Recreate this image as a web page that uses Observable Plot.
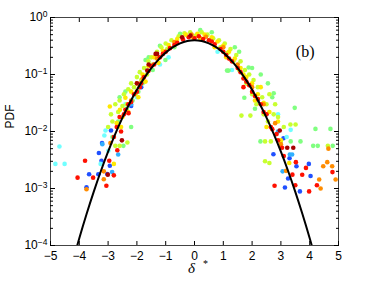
<!DOCTYPE html>
<html><head><meta charset="utf-8">
<script src="https://cdn.jsdelivr.net/npm/d3@7"></script>
<script src="https://cdn.jsdelivr.net/npm/@observablehq/plot@0.6"></script>
<style>body{margin:0;background:#fff}</style>
</head><body><div id="chart"></div>
<script>
// ---- data ----
const xTicks = [-5,-4,-3,-2,-1,0,1,2,3,4,5];
const xTickLabels = ["−5","−4","−3","−2","−1","0","1","2","3","4","5"];
const yTicks = [1e-4,1e-3,1e-2,1e-1,1];
const yTickExponents = ["−4","−3","−2","−1","0"];

// Gaussian reference curve
const curveX = [-4.25,-4,-3.75,-3.5,-3.25,-3,-2.75,-2.5,-2.25,-2,-1.75,-1.5,-1.25,-1,-0.75,-0.5,-0.25,0,0.25,0.5,0.75,1,1.25,1.5,1.75,2,2.25,2.5,2.75,3,3.25,3.5,3.75,4,4.25];
const curveY = [4.76e-5,1.34e-4,3.53e-4,8.73e-4,2.03e-3,4.43e-3,9.09e-3,0.0175,0.0317,0.0540,0.0863,0.1295,0.1826,0.2420,0.3011,0.3521,0.3867,0.3989,0.3867,0.3521,0.3011,0.2420,0.1826,0.1295,0.0863,0.0540,0.0317,0.0175,9.09e-3,4.43e-3,2.03e-3,8.73e-4,3.53e-4,1.34e-4,4.76e-5];

const blue = [[-3.66,1.78e-3],[-3.75,1.05e-3],[-3.34,1.78e-3],[-3.23,3.06e-3],[-3.32,4.2e-3],[-2.94,2.5e-3],[-2.9,1.04e-2],[-3.21,6.3e-3],[-3.03,1.8e-3],[-2.2,0.028],[-1.85,0.06],[2.2,0.035],[3.97,2.7e-3],[4.03,1.66e-3],[3.66,8.9e-4],[3.14,1.04e-3],[3.25,1.5e-3],[3.54,2.45e-3],[2.74,4.0e-3],[3.09,7.6e-3],[3.3,3.4e-3]];
const lightblue = [[-2.65,3.96e-3],[-2.86,1.94e-3],[-3.2,6e-3],[-2.2,0.03],[-1.8,0.08],[3.06,2.0e-3],[3.31,3.96e-3],[3.39,3.96e-3],[2.9,0.01],[2.5,0.02]];
const cyan = [[-4.69,5.46e-3],[-4.83,2.7e-3],[-4.51,2.7e-3],[-3.09,1.04e-2],[-3.13,8.5e-3],[-3.26,2.7e-3],[-2.99,4.6e-3],[-2.4,0.03],[-2.0,0.04],[-1.2,0.15],[0.8,0.25],[1.3,0.12],[2.9,0.02],[3.2,8e-3],[3.34,1.07e-2],[-0.9,0.2]];
const green = [[-2.85,0.008],[-2.65,0.015],[-2.47,5.6e-3],[-2.35,0.025],[-2.15,0.035],[-2.2,0.012],[-1.95,0.05],[-1.8,0.07],[-1.59,0.2],[-1.45,0.12],[-1.01,0.18],[-0.7,0.3],[-0.5,0.52],[0.2,0.6],[0.6,0.55],[1.13,0.117],[1.18,0.117],[1.4,0.3],[1.88,0.133],[1.73,3.9e-2],[2.75,4.7e-2],[2.70,4.0e-2],[3.48,2.6e-2],[2.3,0.1],[2.1,0.025],[2.29,6.7e-3],[2.99,6.7e-3],[3.34,6.7e-3],[3.68,6.7e-3],[4.20,1.11e-2],[4.72,1.11e-2],[4.12,5.6e-3],[4.28,5.6e-3],[4.80,5.6e-3],[-2.6,0.04],[-2.4,0.05],[-1.7,0.18],[-1.2,0.32],[1.55,0.25],[2.0,0.13],[2.55,0.07]];
const yellowgreen = [[-3.0,0.012],[-2.9,0.02],[-2.75,0.03],[-2.6,0.035],[-2.5,0.028],[-2.45,0.045],[-2.3,0.055],[-2.2,0.07],[-2.1,0.06],[-2.0,0.09],[-1.9,0.11],[-1.75,0.13],[-1.6,0.17],[-1.5,0.2],[-1.3,0.25],[-1.15,0.3],[-1.0,0.35],[-0.8,0.4],[-0.55,0.47],[-0.35,0.53],[-0.15,0.55],[0.05,0.48],[0.25,0.55],[0.45,0.5],[0.65,0.43],[0.85,0.4],[1.05,0.35],[1.25,0.28],[1.45,0.22],[1.6,0.17],[1.75,0.12],[1.9,0.1],[2.05,0.08],[2.2,0.06],[2.35,0.04],[2.5,0.03],[2.6,0.045],[2.75,0.02],[2.9,0.018],[3.1,0.012],[3.33,1.33e-2],[3.51,1.33e-2],[1.63,1.9e-2],[1.94,1.9e-2],[2.45,6.7e-3],[2.65,6.7e-3],[4.63,5.6e-3],[2.6,2.8e-3],[2.45,3.0e-3],[-2.33,6.4e-3],[-2.6,5.6e-3],[-2.75,5.6e-3],[-2.85,0.015],[-2.65,0.022],[-2.35,0.03],[-2.05,0.045],[-1.85,0.08],[-1.65,0.1],[-1.45,0.15],[-1.25,0.2],[-0.95,0.28],[-0.65,0.36],[0.9,0.3],[1.15,0.24],[1.35,0.17],[1.55,0.12],[1.8,0.07],[2.0,0.045],[2.15,0.03],[2.4,0.02],[2.55,0.015],[2.8,0.03]];
const yellow = [[-2.94,2.75e-2],[-2.59,2.4e-2],[-2.40,3.9e-2],[-2.80,2.7e-3],[-2.7,1.4e-2],[-2.5,1.8e-2],[-2.2,0.05],[-2.0,0.07],[-1.8,0.1],[-1.6,0.14],[-1.4,0.2],[-1.1,0.26],[-0.9,0.33],[-0.6,0.42],[-0.3,0.5],[0.1,0.52],[0.35,0.5],[0.6,0.45],[0.8,0.38],[1.0,0.32],[1.2,0.25],[1.4,0.19],[1.6,0.13],[1.8,0.09],[2.0,0.07],[2.2,0.045],[2.4,0.032],[2.6,0.022],[2.9,0.015],[3.29,2.8e-3],[3.0,0.007],[2.3,0.06],[-2.55,0.012],[-2.3,0.022],[-1.95,0.04],[-1.7,0.075],[-1.25,0.16],[-0.05,0.44],[0.2,0.43],[0.7,0.3],[1.1,0.2],[1.7,0.1],[2.1,0.035],[2.5,0.012]];
const orange = [[-3.15,1.45e-3],[-3.15,2.0e-3],[-2.92,6.3e-3],[-2.2,0.035],[-1.8,0.085],[-1.3,0.19],[-0.7,0.37],[-0.1,0.5],[0.4,0.46],[1.0,0.3],[1.5,0.15],[2.0,0.06],[2.4,0.03],[2.8,0.014],[4.65,5.0e-3],[4.61,2.9e-3],[4.47,2.45e-3],[4.78,2.45e-3],[4.90,1.44e-3],[4.33,1.44e-3],[4.38,1.0e-3],[3.18,2.04e-3],[3.0,6e-3],[-3.75,9.7e-4]];
const red = [[-2.6,0.018],[-2.4,0.024],[-2.3,0.03],[-2.29,0.021],[-2.1,0.045],[-1.9,0.06],[-1.75,0.09],[-1.6,0.115],[-1.4,0.15],[-1.2,0.2],[-1.0,0.25],[-0.85,0.29],[-0.6,0.36],[-0.4,0.41],[-0.2,0.45],[0,0.43],[0.15,0.47],[0.3,0.42],[0.5,0.4],[0.7,0.34],[0.9,0.28],[1.1,0.22],[1.3,0.17],[1.5,0.13],[1.7,0.085],[1.9,0.065],[2.1,0.042],[2.3,0.03],[2.5,0.02],[2.65,0.012],[2.85,0.009],[-3.80,3.06e-3],[-4.06,1.55e-3],[-3.52,1.55e-3],[-3.06,1.12e-3],[-2.80,1.7e-3],[-2.96,3.06e-3],[-2.68,4.7e-3],[-2.8,8e-3],[-2.55,1.0e-2],[4.79,1.94e-3],[3.87,2.3e-3],[3.74,1.74e-3],[4.25,1.14e-3],[3.98,8.9e-4],[2.78,1.12e-3],[3.50,1.14e-3],[3.40,1.75e-3],[3.52,2.9e-3],[3.10,3.7e-3],[3.04,5.2e-3],[1.70,0.06],[2.9,7e-3],[2.7,1.1e-2],[-2.7,0.012],[-2.45,0.02],[-2.2,0.033],[-2.0,0.05],[-1.85,0.07],[-1.5,0.14],[-1.1,0.23],[-0.7,0.33],[0.6,0.38],[1.0,0.25],[1.2,0.19],[1.6,0.11],[1.8,0.075],[2.0,0.05],[2.2,0.037],[2.4,0.022]];
const darkred = [[-3.01,1.75e-3],[-2.52,7.0e-3],[-1.59,0.15],[-1.64,0.117],[-1.35,0.23],[-1.30,0.23],[-2.0,0.07],[-0.43,0.45],[-0.14,0.48],[2.96,1.04e-2],[3.22,5.2e-3],[3.43,5.2e-3]];

const seriesList = [
  [blue, "#2050ff"], [lightblue, "#30b0ff"], [cyan, "#70ffff"], [green, "#80ff80"],
  [yellowgreen, "#c8ff30"], [yellow, "#ffe800"], [orange, "#ff8c00"], [red, "#ff1000"], [darkred, "#a80000"]
];

const curve = curveX.map((x, i) => ({x, y: curveY[i]}));
const minorY = [];
for (let e = -4; e < 0; e++) for (let m = 2; m <= 9; m++) minorY.push(m * Math.pow(10, e));

const xLabelOf = d => xTickLabels[xTicks.indexOf(d)];
const yLabelOf = d => "10^" + yTickExponents[yTicks.findIndex(v => Math.abs(Math.log10(v) - Math.log10(d)) < 1e-6)];

const chart = Plot.plot({
  width: 374, height: 281,
  marginLeft: 50, marginRight: 36, marginTop: 17, marginBottom: 36,
  style: {fontFamily: "'Liberation Sans', Arial, sans-serif", fontSize: "12px", background: "#fff", color: "#000"},
  x: {domain: [-5, 5]},
  y: {type: "log", domain: [1e-4, 1]},
  marks: [
    ...seriesList.map(([s, c]) => Plot.dot(s, {x: d => d[0], y: d => d[1], r: 2.3, fill: c, clip: true})),
    Plot.line(curve, {x: "x", y: "y", stroke: "black", strokeWidth: 2, curve: "catmull-rom", clip: true}),
    Plot.frame({stroke: "#444"}),
    // inward ticks
    Plot.axisX({anchor: "bottom", ticks: xTicks, tickSize: 4, dy: -4, tickFormat: () => "", label: null}),
    Plot.axisX({anchor: "top", ticks: xTicks, tickSize: 4, dy: 4, tickFormat: () => "", label: null}),
    Plot.axisY({anchor: "left", ticks: yTicks, tickSize: 5, dx: 5, tickFormat: () => "", label: null}),
    Plot.axisY({anchor: "right", ticks: yTicks, tickSize: 5, dx: -5, tickFormat: () => "", label: null}),
    Plot.axisY({anchor: "left", ticks: minorY, tickSize: 3, dx: 3, tickFormat: () => "", label: null}),
    Plot.axisY({anchor: "right", ticks: minorY, tickSize: 3, dx: -3, tickFormat: () => "", label: null}),
    // labels
    Plot.axisX({anchor: "bottom", ticks: xTicks, tickSize: 0, tickPadding: 6, tickFormat: xLabelOf, label: null, fontSize: 12}),
    Plot.axisY({anchor: "left", ticks: yTicks, tickSize: 0, tickPadding: 3, tickFormat: yLabelOf, label: null, fontSize: 12}),
    Plot.text(["PDF"], {frameAnchor: "left", dx: -40, dy: -3, rotate: -90, fontSize: 12}),
    Plot.text(["δ"], {x: () => 0, frameAnchor: "bottom", dy: 27, dx: -3, fontSize: 15, fontStyle: "italic", fontFamily: "'Liberation Serif', serif"}),
    Plot.text(["*"], {x: () => 0, frameAnchor: "bottom", dy: 21, dx: 11, fontSize: 10, fontFamily: "'Liberation Serif', serif"}),
    Plot.text(["(b)"], {frameAnchor: "top-right", dx: -24, dy: 28, fontSize: 16, fontFamily: "'Liberation Serif', serif"})
  ]
});

// superscripts for y tick labels
d3.select(chart).selectAll("text").each(function() {
  const t = this.textContent;
  if (t.startsWith("10^")) {
    const exp = t.slice(3);
    const sel = d3.select(this);
    sel.text("");
    sel.append("tspan").text("10");
    sel.append("tspan").attr("dy", "-0.5em").attr("font-size", "8.5px").text(exp);
  }
});
document.getElementById("chart").appendChild(chart);
</script>
</body></html>
